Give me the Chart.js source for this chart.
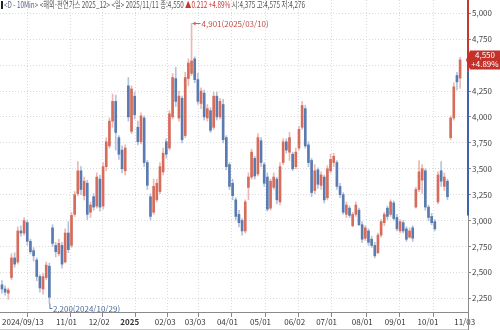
<!DOCTYPE html>
<html lang="ko">
<head>
<meta charset="UTF-8">
<title>해외-천연가스 2025_12</title>
<script src="https://cdn.jsdelivr.net/npm/chart.js"></script>
<style>
  html, body { margin: 0; padding: 0; background: #fff; }
  #wrap { position: relative; width: 500px; height: 330px; }
</style>
</head>
<body>
<div id="wrap"><canvas id="priceChart" width="500" height="330"></canvas></div>
<script>
// daily candles, 2024/09/13 .. 2025/11/11 (prices x1000)
const openPrices = [
  2380, 2340, 2300, 2450, 2640, 2600, 2900, 2880, 2980, 2800, 2710, 2620, 2460, 2340, 2450, 2560,
  2930, 2760, 2680, 2760, 2600, 2880, 2760, 3060, 3260, 3480, 3240, 3360, 3080, 3230, 3140, 3400,
  3140, 3520, 3720, 3960, 4150, 3800, 3680, 3480, 4300, 3860, 4200, 3900, 3760, 3990, 3560, 3230,
  3080, 3200, 3280, 3470, 3760, 3700, 4000, 4370, 3990, 4180, 3820, 4370, 4420, 4560, 4360, 4130,
  4230, 3990, 4060, 3900, 4200, 4000, 4120, 3800, 3540, 3360, 3200, 3060, 3000, 2900, 3320, 3420,
  3600, 3450, 3770, 3540, 3420, 3120, 3320, 3400, 3180, 3560, 3760, 3660, 3640, 3520, 3700, 3900,
  4080, 3730, 3580, 3290, 3490, 3340, 3420, 3220, 3480, 3560, 3560, 3330, 3250, 3060, 3120, 2950,
  3060, 3100, 2960, 2830, 2900, 2820, 2760, 2690, 2860, 2980, 3120, 3060, 3170, 3030, 2900, 2980,
  2920, 2840, 2930, 3130, 3300, 3390, 3480, 3130, 3040, 2990, 3180, 3480, 3330, 3380, 3800, 3990,
  4400, 4375
];
const highPrices = [
  2420, 2370, 2350, 2680, 2690, 2940, 2950, 3030, 3000, 2820, 2740, 2640, 2480, 2490, 2600, 2590,
  2960, 2790, 2820, 2790, 2920, 2990, 3080, 3280, 3570, 3520, 3420, 3390, 3180, 3260, 3460, 3440,
  3560, 3800, 3990, 4220, 4210, 3820, 3720, 3730, 4380, 4300, 4240, 3960, 4040, 4010, 3580, 3260,
  3400, 3400, 3560, 3700, 3790, 4060, 4420, 4480, 4250, 4200, 4430, 4560, 4901, 4580, 4420, 4280,
  4260, 4120, 4090, 4240, 4240, 4180, 4170, 3820, 3560, 3400, 3220, 3100, 3020, 3200, 3460, 3690,
  3620, 3840, 3800, 3560, 3460, 3400, 3460, 3420, 3560, 3790, 3790, 3850, 3660, 3700, 3910, 4150,
  4110, 3760, 3600, 3540, 3510, 3470, 3440, 3530, 3640, 3650, 3580, 3360, 3270, 3180, 3140, 3080,
  3180, 3120, 2990, 2950, 2920, 2850, 2790, 2880, 3010, 3080, 3140, 3200, 3190, 3060, 3010, 3000,
  2940, 2930, 2950, 3320, 3580, 3540, 3500, 3150, 3070, 3010, 3470, 3570, 3460, 3400, 4010, 4330,
  4430, 4575
];
const lowPrices = [
  2300, 2280, 2240, 2430, 2550, 2580, 2850, 2860, 2760, 2680, 2610, 2420, 2310, 2290, 2430, 2200,
  2750, 2650, 2660, 2540, 2590, 2690, 2740, 3040, 3240, 3250, 3200, 3010, 3030, 3100, 3120, 3090,
  3110, 3480, 3700, 3900, 3680, 3590, 3460, 3440, 3960, 3840, 3980, 3730, 3740, 3520, 3300, 3005,
  3060, 3180, 3260, 3440, 3600, 3680, 3980, 4100, 3960, 3750, 3800, 4300, 4400, 4330, 4120, 4080,
  3970, 3960, 3850, 3880, 3970, 3980, 3750, 3490, 3300, 3200, 3005, 2940, 2860, 2880, 3200, 3400,
  3400, 3430, 3520, 3330, 3090, 3100, 3300, 3160, 3150, 3540, 3650, 3580, 3480, 3500, 3680, 3880,
  3700, 3520, 3230, 3260, 3310, 3300, 3170, 3200, 3460, 3520, 3300, 3220, 3060, 3030, 3030, 2940,
  3040, 2950, 2790, 2810, 2760, 2740, 2640, 2680, 2840, 2950, 3010, 3040, 3000, 2900, 2880, 2880,
  2800, 2830, 2800, 3120, 3280, 3260, 3100, 3000, 2960, 2900, 3160, 3330, 3290, 3200, 3780, 3970,
  4260, 4276
];
const closePrices = [
  2340, 2310, 2330, 2640, 2580, 2900, 2880, 3000, 2800, 2700, 2660, 2460, 2350, 2460, 2570, 2260,
  2780, 2700, 2780, 2580, 2880, 2720, 3050, 3250, 3480, 3300, 3380, 3060, 3150, 3130, 3420, 3130,
  3520, 3760, 3960, 4150, 3850, 3640, 3500, 3700, 4000, 4270, 4020, 3760, 4010, 3560, 3340, 3040,
  3330, 3360, 3520, 3650, 3640, 4030, 4380, 4150, 4200, 3780, 4380, 4520, 4540, 4360, 4150, 4250,
  4000, 4080, 3870, 4200, 4000, 4150, 3780, 3520, 3330, 3240, 3040, 2980, 2900, 3180, 3420, 3660,
  3430, 3800, 3560, 3360, 3110, 3380, 3420, 3200, 3520, 3760, 3680, 3800, 3500, 3660, 3880, 4110,
  3720, 3560, 3270, 3480, 3350, 3440, 3200, 3500, 3590, 3620, 3330, 3250, 3080, 3150, 3050, 3060,
  3150, 2960, 2820, 2930, 2790, 2760, 2660, 2860, 2990, 3060, 3040, 3180, 3020, 2920, 2990, 2900,
  2820, 2900, 2830, 3300, 3470, 3500, 3130, 3030, 2980, 2920, 3440, 3380, 3420, 3230, 3990, 4290,
  4338, 4550
];

// month boundaries on the candle index axis and their labels
const tickPositions = [-0.63, 16.5, 26.8, 36.8, 47.7, 57.2, 67.4, 77.9, 88.7, 98.8, 110.1, 120.5, 130.9, 142.5];
const tickLabels = ['2024/09/13', '11/01', '12/02', '2025', '02/03', '03/03', '04/01',
                    '05/01', '06/02', '07/01', '08/01', '09/01', '10/01', '11/03'];
const priceTicks = [2250, 2500, 2750, 3000, 3250, 3500, 3750, 4000, 4250, 4500, 4750, 5000];

const highDate = '2025/03/10';
const lowDate = '2024/10/29';
// colour bands on the price axis line
const axisRedFrom = 4440;
const axisBlueTo = 3050;

const UP = '#d66c5b', UP_WICK = '#ebb9b2';
const DOWN = '#5a7bb0', DOWN_WICK = '#b5c3da';
const NARROW = '"Liberation Sans Narrow", "Noto Sans CJK KR", sans-serif';

const fmt = v => v.toLocaleString('en-US');
const isUp = i => closePrices[i] >= openPrices[i];
const idx = closePrices.map((_, i) => i);

const wickData = idx.map(i => ({ x: i, y: [lowPrices[i], highPrices[i]] }));
const bodyData = idx.map(i => ({ x: i, y: [openPrices[i], closePrices[i]] }));

const overlay = {
  id: 'overlay',
  afterDraw(chart) {
    const ctx = chart.ctx;
    const xs = chart.scales.x, ys = chart.scales.y;
    const area = chart.chartArea;
    const n = closePrices.length;
    const last = closePrices[n - 1], prev = closePrices[n - 2];
    ctx.save();

    // price axis line with red / blue bands
    const ax = area.right + 0.5;
    ctx.strokeStyle = '#8a8a8a';
    ctx.lineWidth = 1;
    ctx.beginPath(); ctx.moveTo(ax, 0); ctx.lineTo(ax, chart.height); ctx.stroke();
    const yRed = ys.getPixelForValue(axisRedFrom);
    const yBlue = ys.getPixelForValue(axisBlueTo);
    ctx.lineWidth = 2;
    ctx.strokeStyle = '#c8372d';
    ctx.beginPath(); ctx.moveTo(area.right, 0); ctx.lineTo(area.right, yRed); ctx.stroke();
    ctx.strokeStyle = '#3f63a4';
    ctx.beginPath(); ctx.moveTo(area.right, yRed); ctx.lineTo(area.right, yBlue); ctx.stroke();

    // bottom frame
    ctx.lineWidth = 1;
    ctx.strokeStyle = '#c8c8c8';
    ctx.beginPath(); ctx.moveTo(0, chart.height - 0.5); ctx.lineTo(area.right, chart.height - 0.5); ctx.stroke();

    ctx.font = '8px ' + NARROW;
    ctx.textBaseline = 'middle';
    ctx.textAlign = 'left';

    // highest high marker
    const hiVal = Math.max(...highPrices);
    const hi = highPrices.indexOf(hiVal);
    const hx = xs.getPixelForValue(hi), hy = ys.getPixelForValue(hiVal);
    ctx.strokeStyle = '#c9645a'; ctx.fillStyle = '#c9645a';
    ctx.beginPath(); ctx.moveTo(hx + 1, hy); ctx.lineTo(hx + 9, hy); ctx.stroke();
    ctx.beginPath(); ctx.moveTo(hx + 1, hy); ctx.lineTo(hx + 4, hy - 2); ctx.lineTo(hx + 4, hy + 2); ctx.closePath(); ctx.fill();
    ctx.fillStyle = '#c0504a';
    ctx.fillText(fmt(hiVal) + '(' + highDate + ')', hx + 10, hy);

    // lowest low marker
    const loVal = Math.min(...lowPrices);
    const lo = lowPrices.indexOf(loVal);
    const lx = xs.getPixelForValue(lo), ly = ys.getPixelForValue(loVal);
    ctx.strokeStyle = '#5a78aa';
    ctx.beginPath(); ctx.moveTo(lx + 0.5, ly); ctx.lineTo(lx + 0.5, ly + 5); ctx.lineTo(lx + 3, ly + 5); ctx.stroke();
    ctx.fillStyle = '#4a6a9c';
    ctx.fillText(fmt(loVal) + '(' + lowDate + ')', lx + 3.5, ly + 5);

    // last price tag on the axis
    const py = ys.getPixelForValue(last);
    const bx = area.right + 2;
    ctx.fillStyle = '#c2322a';
    ctx.beginPath();
    ctx.moveTo(area.right - 2, py);
    ctx.lineTo(bx, py - 9.5);
    ctx.lineTo(chart.width, py - 9.5);
    ctx.lineTo(chart.width, py + 9.5);
    ctx.lineTo(bx, py + 9.5);
    ctx.closePath();
    ctx.fill();
    ctx.fillStyle = '#fff';
    ctx.textAlign = 'center';
    const pct = (last - prev) / prev * 100;
    ctx.fillText(fmt(last), bx + 15, py - 4.5);
    ctx.fillText('+' + pct.toFixed(2) + '%', bx + 15, py + 4.5);

    // header line
    const chg = (last - prev) / 1000;
    const parts = [
      ['<D - 10Min> ', '#5b6480'],
      ['<해외-천연가스 2025_12> <일> 2025/11/11 ', '#555'],
      ['종:' + fmt(last) + ' ', '#555'],
      ['▲' + chg.toFixed(3) + ' +' + pct.toFixed(2) + '% ', '#c8372d'],
      ['시:' + fmt(openPrices[n - 1]) + ' 고:' + fmt(highPrices[n - 1]) + ' 저:' + fmt(lowPrices[n - 1]), '#555']
    ];
    ctx.font = '9px ' + NARROW;
    ctx.textAlign = 'left';
    const full = parts.map(p => p[0]).join('');
    const w = ctx.measureText(full).width;
    const sx = 301 / w;
    ctx.fillStyle = '#222';
    ctx.fillRect(1, 1, 2, 8);
    ctx.translate(4, 5);
    ctx.scale(sx, 1);
    let cx = 0;
    parts.forEach(([t, c]) => {
      ctx.fillStyle = c;
      ctx.fillText(t, cx, 0);
      cx += ctx.measureText(t).width;
    });
    ctx.restore();
  }
};

new Chart(document.getElementById('priceChart'), {
  type: 'bar',
  data: {
    datasets: [
      {
        data: wickData,
        backgroundColor: c => isUp(c.dataIndex) ? UP_WICK : DOWN_WICK,
        barThickness: 1,
        grouped: false,
        borderWidth: 0,
        order: 2
      },
      {
        data: bodyData,
        backgroundColor: c => isUp(c.dataIndex) ? UP : DOWN,
        barThickness: 2,
        minBarLength: 1,
        grouped: false,
        borderWidth: 0,
        order: 1
      }
    ]
  },
  options: {
    responsive: false,
    animation: false,
    layout: { padding: 0 },
    plugins: { legend: { display: false }, tooltip: { enabled: false } },
    scales: {
      x: {
        type: 'linear',
        min: -0.63,
        max: 147.5,
        offset: false,
        afterBuildTicks: s => { s.ticks = tickPositions.map(v => ({ value: v })); },
        afterFit: s => { s.height = 18; s.paddingLeft = 0; s.paddingRight = 0; },
        ticks: {
          autoSkip: false,
          maxRotation: 0,
          align: 'start',
          labelOffset: 2,
          padding: 0,
          color: '#333',
          font: c => ({ family: NARROW, size: 8, weight: tickLabels[c.index] === '2025' ? 'bold' : 'normal' }),
          callback: (v, i) => tickLabels[i]
        },
        grid: { color: '#dadada', tickColor: '#888', tickLength: 5 },
        border: { display: true, color: '#8a8a8a', dash: [1, 2] }
      },
      y: {
        position: 'right',
        min: 2118,
        max: 5128,
        afterBuildTicks: s => { s.ticks = priceTicks.map(v => ({ value: v })); },
        afterFit: s => { s.width = 32; s.paddingTop = 0; s.paddingBottom = 0; },
        ticks: {
          padding: 1,
          color: '#444',
          font: { family: NARROW, size: 8 },
          callback: v => fmt(v)
        },
        grid: { color: '#dadada', tickColor: '#888', tickLength: 3 },
        border: { display: false, dash: [1, 2] }
      }
    }
  },
  plugins: [overlay]
});
</script>
</body>
</html>
